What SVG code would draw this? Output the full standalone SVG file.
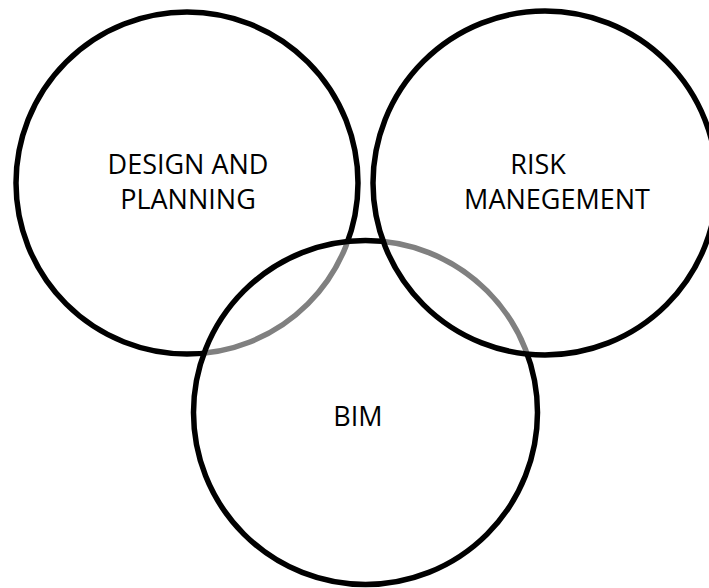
<svg xmlns="http://www.w3.org/2000/svg" width="709" height="588" viewBox="0 0 709 588">
<style>
.c{fill:#ffffff;fill-opacity:0.5;stroke:#000000;stroke-width:5.5}
.t{font-family:"Open Sans","Liberation Sans",sans-serif;font-size:27px;fill:#000000;text-anchor:middle}
</style>
<rect width="709" height="588" fill="#ffffff"/>
<g id="design">
<circle class="c" cx="187" cy="183" r="171"/>
<text class="t" x="188" y="174">DESIGN AND</text>
<text class="t" x="188" y="209">PLANNING</text>
</g>
<g id="bim">
<circle class="c" cx="365.5" cy="412.5" r="172"/>
<text class="t" x="358" y="426">BIM</text>
</g>
<g id="risk">
<circle class="c" cx="545" cy="183" r="172"/>
<text class="t" x="538" y="174">RISK</text>
<text class="t" x="557" y="209">MANEGEMENT</text>
</g>
<g id="connectors"/>
</svg>
